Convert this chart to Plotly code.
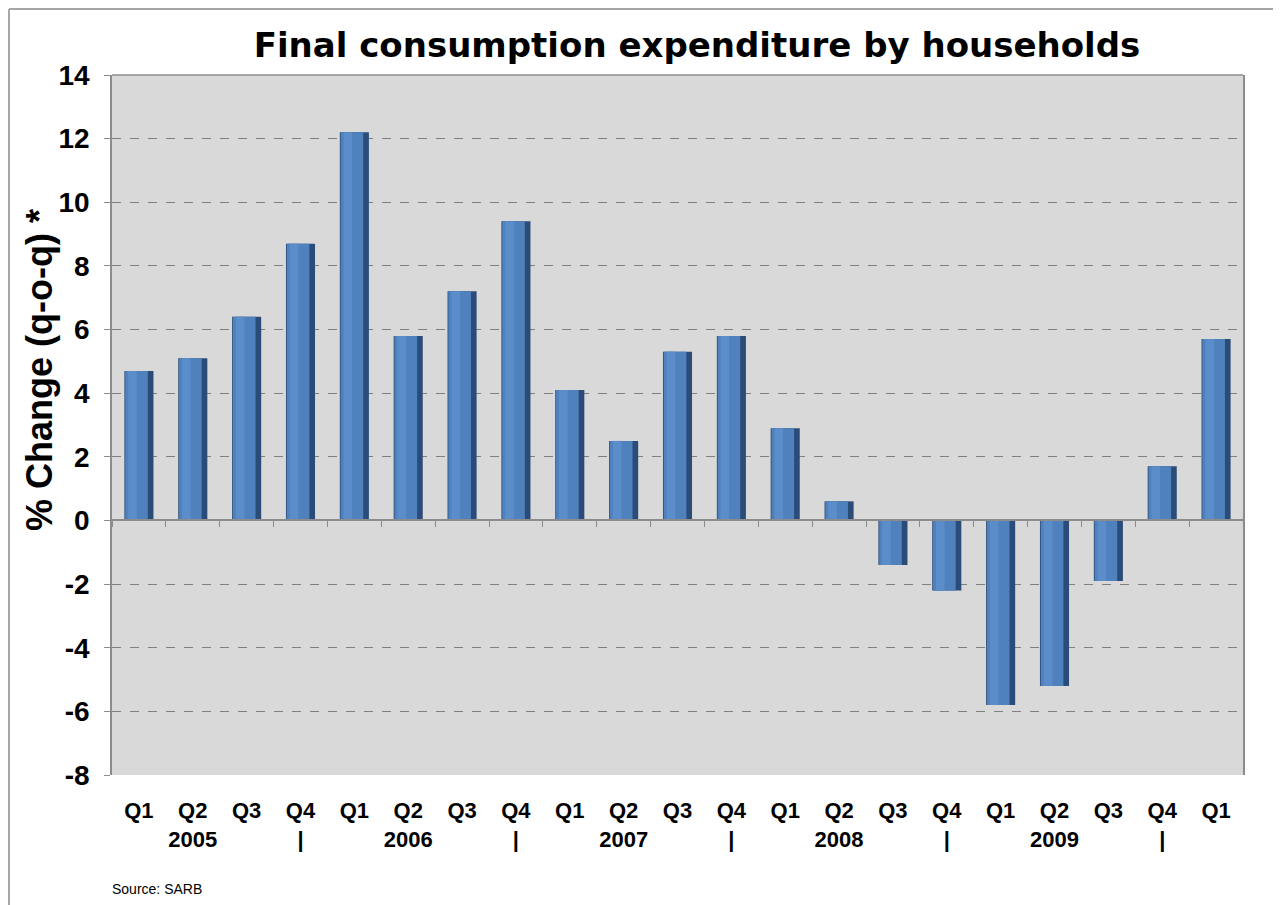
import plotly.graph_objects as go

# ---- data ----
quarters = ["Q1", "Q2", "Q3", "Q4", "Q1", "Q2", "Q3", "Q4", "Q1", "Q2", "Q3",
            "Q4", "Q1", "Q2", "Q3", "Q4", "Q1", "Q2", "Q3", "Q4", "Q1"]
years = ["2005", "2005", "2005", "2005", "2006", "2006", "2006", "2006",
         "2007", "2007", "2007", "2007", "2008", "2008", "2008", "2008",
         "2009", "2009", "2009", "2009", "2010"]
second_row = ["", "2005", "", "|", "", "2006", "", "|", "", "2007", "", "|",
              "", "2008", "", "|", "", "2009", "", "|", ""]
pct_change = [4.7, 5.1, 6.4, 8.7, 12.2, 5.8, 7.2, 9.4, 4.1, 2.5, 5.3, 5.8,
              2.9, 0.6, -1.4, -2.2, -5.8, -5.2, -1.9, 1.7, 5.7]
y_ticks = [-8, -6, -4, -2, 0, 2, 4, 6, 8, 10, 12, 14]

keys = [f"{q} {y}" for q, y in zip(quarters, years)]
tick_text = [f"{q}<br>{s if s else ' '}" for q, s in zip(quarters, second_row)]
y_tick_text = [str(v) for v in y_ticks]

NARROW = "Liberation Sans Narrow, Arial Narrow, Liberation Sans, Arial, sans-serif"
GRID = "#7f7f7f"
AXIS = "#8c8c8c"

# page offset (browser body margin) and target plot box in page pixels
OFF = 8
PL, PR, PT, PB = 112, 1243, 75, 775
PW, PH = PR - PL, PB - PT


def px_x(x):
    return (x - PL) / PW


def px_y(y):
    return (PB - y) / PH


fig = go.Figure()

# dark body (edge/shadow)
fig.add_trace(go.Bar(
    x=keys, y=pct_change, width=0.54, offset=-0.27,
    marker=dict(color="#2b4c78", line=dict(width=0)),
    showlegend=False, hoverinfo="x+y", name="",
))
# main face
fig.add_trace(go.Bar(
    x=keys, y=pct_change, width=0.42, offset=-0.255,
    marker=dict(color="#4f81bd", line=dict(width=0)),
    showlegend=False, hoverinfo="skip",
))
# soft highlight
fig.add_trace(go.Bar(
    x=keys, y=pct_change, width=0.16, offset=-0.2,
    marker=dict(color="#5b8dcb", line=dict(width=0)),
    showlegend=False, hoverinfo="skip",
))
# helper for bottom category labels
fig.add_trace(go.Scatter(
    x=keys, y=[None] * len(keys), xaxis="x2", mode="markers",
    showlegend=False, hoverinfo="skip",
))

fig.update_layout(
    width=1281, height=905,
    margin=dict(l=PL - OFF, r=1281 - PR + OFF, t=PT - OFF, b=905 - PB + OFF),
    paper_bgcolor="white",
    plot_bgcolor="#d9d9d9",
    barmode="overlay",
    title=dict(
        text="<b>Final consumption expenditure by households</b>",
        x=px_x(697) * PW / 1281 + (PL - OFF) / 1281, xanchor="center",
        xref="container",
        y=1 - (45 - OFF) / 905, yanchor="middle", yref="container",
        font=dict(family="DejaVu Sans", size=34, color="black"),
    ),
    xaxis=dict(
        type="category", categoryorder="array", categoryarray=keys,
        range=[-0.5, len(keys) - 0.5],
        anchor="free", position=8 / 22, side="bottom",
        showline=True, linecolor=AXIS, linewidth=1.5,
        ticks="outside", tickson="boundaries", ticklen=6, tickcolor=AXIS,
        showticklabels=False, showgrid=False, zeroline=False,
    ),
    xaxis2=dict(
        type="category", categoryorder="array", categoryarray=keys,
        range=[-0.5, len(keys) - 0.5],
        overlaying="x", anchor="y", side="bottom",
        showline=False, ticks="", showgrid=False, zeroline=False,
        tickvals=keys, ticktext=tick_text, tickangle=0,
        tickfont=dict(family=NARROW, size=22, color="black", weight="bold"),
        ticklabelstandoff=20,
    ),
    yaxis=dict(
        range=[-8, 14], tickvals=y_ticks, ticktext=y_tick_text,
        showgrid=True, gridcolor=GRID, gridwidth=1, griddash="dash",
        showline=True, linecolor=AXIS, linewidth=1.5, mirror=True,
        ticks="outside", ticklen=6, tickcolor=AXIS,
        zeroline=False,
        tickfont=dict(family=NARROW, size=28, color="black", weight="bold"),
        ticklabelstandoff=9,
    ),
    shapes=[
        dict(type="line", xref="paper", yref="paper", x0=0, x1=1, y0=1, y1=1,
             line=dict(color=AXIS, width=1.5)),
        dict(type="line", xref="paper", yref="paper",
             x0=px_x(9), x1=px_x(9), y0=px_y(920), y1=px_y(9),
             line=dict(color="#a6a6a6", width=2)),
        dict(type="line", xref="paper", yref="paper",
             x0=px_x(9), x1=px_x(1290), y0=px_y(9), y1=px_y(9),
             line=dict(color="#a6a6a6", width=2)),
    ],
    annotations=[
        dict(text="<b>% Change (q-o-q) *</b>", xref="paper", yref="paper",
             x=px_x(40), y=px_y(370), xanchor="center", yanchor="middle",
             textangle=-90, showarrow=False,
             font=dict(family="Liberation Sans, Arial, sans-serif", size=36, color="black")),
        dict(text="Source: SARB", xref="paper", yref="paper",
             x=px_x(110), y=px_y(889), xanchor="left", yanchor="middle",
             showarrow=False,
             font=dict(family=NARROW, size=14, color="black")),
    ],
)

fig.write_html("out.html")
